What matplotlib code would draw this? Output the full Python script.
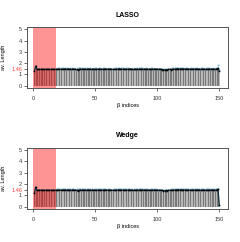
import matplotlib
matplotlib.use("Agg")
import matplotlib.pyplot as plt
import numpy as np

indices = list(range(1, 151))

lasso_len = [
 1.30, 1.75, 1.45, 1.47, 1.46, 1.45, 1.47, 1.46, 1.44, 1.46,
 1.47, 1.45, 1.46, 1.44, 1.47, 1.46, 1.45, 1.46, 1.47, 1.45,
 1.48, 1.46, 1.47, 1.45, 1.49, 1.47, 1.46, 1.48, 1.47, 1.45,
 1.46, 1.48, 1.47, 1.46, 1.44, 1.42, 1.45, 1.47, 1.46, 1.48,
 1.47, 1.46, 1.45, 1.47, 1.48, 1.46, 1.45, 1.47, 1.46, 1.44,
 1.45, 1.47, 1.48, 1.46, 1.47, 1.45, 1.46, 1.48, 1.47, 1.46,
 1.45, 1.47, 1.46, 1.44, 1.45, 1.44, 1.46, 1.47, 1.49, 1.48,
 1.47, 1.46, 1.48, 1.47, 1.45, 1.46, 1.48, 1.47, 1.46, 1.45,
 1.44, 1.46, 1.47, 1.45, 1.46, 1.48, 1.47, 1.46, 1.48, 1.47,
 1.46, 1.45, 1.47, 1.46, 1.44, 1.45, 1.47, 1.48, 1.46, 1.45,
 1.46, 1.45, 1.44, 1.43, 1.42, 1.41, 1.43, 1.42, 1.44, 1.45,
 1.43, 1.44, 1.46, 1.48, 1.47, 1.49, 1.50, 1.49, 1.48, 1.47,
 1.48, 1.49, 1.47, 1.46, 1.48, 1.47, 1.46, 1.45, 1.47, 1.46,
 1.48, 1.47, 1.46, 1.47, 1.45, 1.46, 1.48, 1.47, 1.46, 1.45,
 1.47, 1.46, 1.48, 1.47, 1.46, 1.45, 1.47, 1.48, 1.55, 1.30,
]

lasso_alt = [None] * 18 + [
 1.52, 1.54, 1.53, 1.51, 1.55, 1.53, 1.52, 1.54, 1.53, 1.51,
 1.52, 1.55, 1.53, 1.52, 1.50, 1.49, 1.52, 1.54, 1.53, 1.55,
 1.53, 1.52, 1.51, 1.53, 1.54, 1.52, 1.51, 1.53, 1.52, 1.50,
 1.51, 1.53, 1.54, 1.52, 1.53, 1.51, 1.52, 1.55, 1.53, 1.52,
 1.51, 1.53, 1.52, 1.50, 1.51, 1.50, 1.52, 1.53, 1.55, 1.54,
 1.53, 1.52, 1.54, 1.53, 1.51, 1.52, 1.55, 1.53, 1.52, 1.51,
 1.50, 1.52, 1.53, 1.51, 1.52, 1.54, 1.53, 1.52, 1.55, 1.53,
 1.52, 1.51, 1.53, 1.52, 1.50, 1.51, 1.53, 1.54, 1.52, 1.51,
 1.52, 1.51, 1.50, 1.49, 1.48, 1.47, 1.49, 1.48, 1.50, 1.51,
 1.49, 1.50, 1.52, 1.54, 1.53, 1.55, 1.56, 1.55, 1.54, 1.53,
 1.54, 1.55, 1.53, 1.52, 1.54, 1.53, 1.52, 1.51, 1.53, 1.52,
 1.54, 1.53, 1.52, 1.53, 1.51, 1.52, 1.54, 1.53, 1.52, 1.51,
 1.53, 1.52, 1.54, 1.53, 1.52, 1.51, 1.53, 1.52, 1.54, 1.58,
 1.80, 1.40,
]

wedge_len = list(lasso_len)
wedge_len[0] = 1.20
wedge_len[149] = 0.12
wedge_alt = list(lasso_alt)
wedge_alt[148] = 1.55
wedge_alt[149] = 0.15

titles = ["LASSO", "Wedge"]
ref_value = 1.46
ref_label = "1.46"
support_end = 18.5
xticks = [0, 50, 100, 150]
yticks = [0, 1, 2, 3, 4, 5]

W, H = 240, 242
fig = plt.figure(figsize=(W / 100, H / 100), dpi=100)
plt.rcParams['font.family'] = ['Liberation Sans', 'DejaVu Sans']

panels = [
    (lasso_len, lasso_alt, 27, 88),
    (wedge_len, wedge_alt, 147.7, 209),
]

for (vals, alt, top_px, bot_px), title in zip(panels, titles):
    ax = fig.add_axes([27 / W, 1 - bot_px / H, 201 / W, (bot_px - top_px) / H])
    x = np.array(indices)
    v = np.array(vals)
    cols = ['#7a7a7a' if i % 2 == 0 else '#b8b8b8' for i in range(len(x))]
    ax.bar(x, v, width=1.0, color=cols, linewidth=0, zorder=1)
    ax.axvspan(0, support_end, color='red', alpha=0.42, linewidth=0, zorder=2)
    ax_idx = [i for i, a in zip(indices, alt) if a is not None]
    ax_val = [a for a in alt if a is not None]
    ax.scatter(ax_idx, ax_val, s=2.5, color='#8ec5dc', linewidths=0, zorder=3)
    ax.plot(x, v, color='#0d2f3a', linewidth=0.9, zorder=4)
    ax.scatter(x, v, s=1.5, color='black', linewidths=0, zorder=5)
    ax.set_xlim(-5, 157)
    ax.set_ylim(-0.2, 5.2)
    ax.set_xticks(xticks)
    ax.set_yticks(yticks + [ref_value])
    labels = [str(t) for t in yticks] + [ref_label]
    ax.set_yticklabels(labels)
    ax.tick_params(axis='both', labelsize=4, length=2, width=0.5, pad=1.5, colors='#333333')
    ax.tick_params(axis='x', pad=3.5)
    tl = ax.get_yticklabels()
    tl[-1].set_color('#ff4040')
    ticks = ax.yaxis.get_major_ticks()
    ticks[-1].tick1line.set_color('#ff4040')
    for s in ax.spines.values():
        s.set_linewidth(0.7)
        s.set_color('#555555')
    ax.set_title(title, fontsize=5, fontweight='bold', pad=7.5)
    ax.set_xlabel("β indices", fontsize=4, labelpad=2)
    ax.set_ylabel("av. Length", fontsize=4, labelpad=4)

fig.savefig("out.png", dpi=100)
